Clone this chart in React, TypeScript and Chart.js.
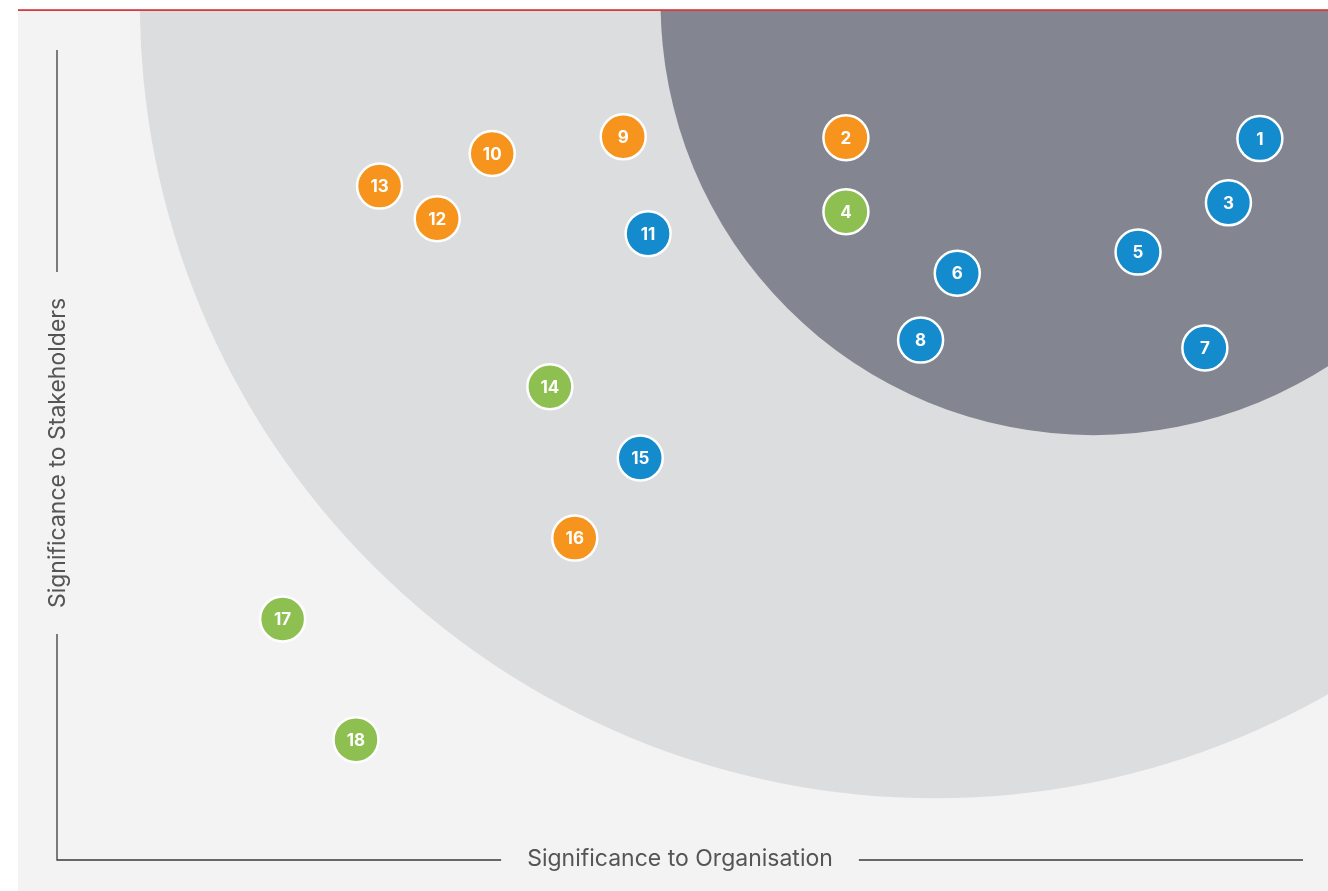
import { useEffect, useRef } from "react";
import { Chart, registerables } from "chart.js";

Chart.register(...registerables);

// Material topics: id, significance to organisation (x), significance to stakeholders (y), group
const topicIds = [1, 2, 3, 4, 5, 6, 7, 8, 9, 10, 11, 12, 13, 14, 15, 16, 17, 18];
const orgSignificance = [94.8, 63.2, 92.4, 63.2, 85.5, 71.7, 90.6, 68.9, 46.2, 36.2, 48.1, 32.0, 27.6, 40.6, 47.5, 42.5, 20.2, 25.8];
const stakeholderSignificance = [85.5, 85.6, 78.2, 77.2, 72.6, 70.2, 61.7, 62.6, 85.7, 83.8, 74.7, 76.4, 80.1, 57.3, 49.2, 40.1, 30.9, 17.2];
const topicGroup = ["blue", "orange", "blue", "green", "blue", "blue", "blue", "blue", "orange", "orange", "blue", "orange", "orange", "green", "blue", "orange", "green", "green"];

const groupNames = ["blue", "orange", "green"];
const groupColors = ["#138bcd", "#f7941e", "#8dc051"];

// Background significance zones (centre in data units, radius in x-units)
const zoneCenterX = [70.0, 82.1];
const zoneCenterY = [100.9, 101.0];
const zoneRadius = [60.7, 33.05];
const zoneColors = ["#dcdddf", "#838691"];

const xAxisTitle = "Significance to Organisation";
const yAxisTitle = "Significance to Stakeholders";

const FONT = "Inter, Roboto, 'Noto Sans', sans-serif";

const backgroundPlugin = {
  id: "zonesBackground",
  beforeDatasetsDraw(chart: any) {
    const { ctx, chartArea: a, scales } = chart;
    const xs = scales.x;
    const ys = scales.y;
    ctx.save();
    ctx.fillStyle = "#f3f3f3";
    ctx.fillRect(a.left, a.top, a.right - a.left, a.bottom - a.top);
    ctx.beginPath();
    ctx.rect(a.left, a.top, a.right - a.left, a.bottom - a.top);
    ctx.clip();
    for (let i = 0; i < zoneCenterX.length; i++) {
      const cx = xs.getPixelForValue(zoneCenterX[i]);
      const cy = ys.getPixelForValue(zoneCenterY[i]);
      const r = xs.getPixelForValue(zoneCenterX[i] + zoneRadius[i]) - cx;
      ctx.beginPath();
      ctx.arc(cx, cy, r, 0, Math.PI * 2);
      ctx.fillStyle = zoneColors[i];
      ctx.fill();
    }
    ctx.restore();

    // red top rule
    ctx.save();
    ctx.fillStyle = "#d8393f";
    ctx.fillRect(a.left, a.top - 1.8, a.right - a.left, 1.8);
    ctx.restore();

    // axes with titles
    ctx.save();
    const axisX = 57;
    const axisBottom = 860;
    const axisTop = 50;
    const axisRight = 1303;
    const gap = 26;
    ctx.strokeStyle = "#3a3a3a";
    ctx.lineWidth = 1.3;
    ctx.font = `400 23px ${FONT}`;
    ctx.fillStyle = "#555555";
    ctx.textAlign = "center";
    ctx.textBaseline = "middle";

    const xw = ctx.measureText(xAxisTitle).width;
    const xc = 680;
    ctx.fillText(xAxisTitle, xc, axisBottom - 1);

    const yw = ctx.measureText(yAxisTitle).width;
    const yc = 453;
    ctx.save();
    ctx.translate(axisX + 1, yc);
    ctx.rotate(-Math.PI / 2);
    ctx.fillText(yAxisTitle, 0, 0);
    ctx.restore();

    ctx.beginPath();
    ctx.moveTo(axisX, axisTop);
    ctx.lineTo(axisX, yc - yw / 2 - gap);
    ctx.moveTo(axisX, yc + yw / 2 + gap);
    ctx.lineTo(axisX, axisBottom);
    ctx.lineTo(xc - xw / 2 - gap, axisBottom);
    ctx.moveTo(xc + xw / 2 + gap, axisBottom);
    ctx.lineTo(axisRight, axisBottom);
    ctx.stroke();
    ctx.restore();
  },
};

const labelPlugin = {
  id: "topicLabels",
  afterDatasetsDraw(chart: any) {
    const { ctx } = chart;
    ctx.save();
    ctx.fillStyle = "#ffffff";
    ctx.font = `700 17px ${FONT}`;
    ctx.textAlign = "center";
    ctx.textBaseline = "middle";
    chart.data.datasets.forEach((ds: any, di: number) => {
      const meta = chart.getDatasetMeta(di);
      meta.data.forEach((el: any, i: number) => {
        ctx.fillText(String(ds.data[i].id), el.x, el.y + 1);
      });
    });
    ctx.restore();
  },
};

export default function App() {
  const canvasRef = useRef<HTMLCanvasElement | null>(null);

  useEffect(() => {
    const canvas = canvasRef.current;
    if (!canvas) return;
    const datasets = groupNames.map((g, gi) => ({
      label: g,
      data: topicIds
        .map((id, i) => ({ x: orgSignificance[i], y: stakeholderSignificance[i], id, g: topicGroup[i] }))
        .filter((p) => p.g === g),
      backgroundColor: groupColors[gi],
      borderColor: "#ffffff",
      borderWidth: 2.5,
      pointRadius: 22.5,
      pointHoverRadius: 22.5,
    }));
    const chart = new Chart(canvas, {
      type: "scatter",
      data: { datasets },
      options: {
        responsive: false,
        animation: false,
        layout: { autoPadding: false, padding: { left: 18, top: 11, right: 0, bottom: 0 } },
        scales: {
          x: { type: "linear", min: 0, max: 100, display: false },
          y: { type: "linear", min: 0, max: 100, display: false },
        },
        plugins: {
          legend: { display: false },
          tooltip: { enabled: false },
        },
        events: [],
      },
      plugins: [backgroundPlugin, labelPlugin],
    } as any);
    return () => chart.destroy();
  }, []);

  return (
    <div style={{ position: "fixed", left: 0, top: 0, width: 1328, height: 891, background: "#ffffff" }}>
      <canvas ref={canvasRef} width={1328} height={891} style={{ display: "block" }} />
    </div>
  );
}
